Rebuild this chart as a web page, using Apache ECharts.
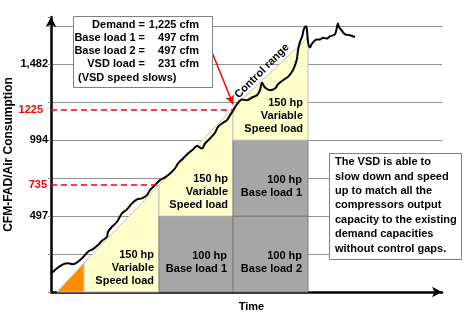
<!DOCTYPE html>
<html>
<head>
<meta charset="utf-8">
<script src="https://cdn.jsdelivr.net/npm/echarts@6/dist/echarts.min.js"></script>
<style>html,body{margin:0;padding:0;background:#fff;}</style>
</head>
<body>
<div id="chart" style="width:475px;height:316px;"></div>
<script type="text/javascript">
// demand curve: time (arbitrary units along the axis) vs air consumption (cfm)
var demandTime = [1,6,12,17,22,27,32,37,42,47, 51,56,57,61,66,71,76,81,86,91,
    96,99,104,109,114,119,124,127,132,137, 142,146,151,154,159,164,167,171,176,179,
    182,186,191,196,201,206,209,211,214,219, 224,227,232,237,241,244,246,247,249,251,
    253,255,256,257,259,261,266,269,272,276, 279,284,287,288,291,294,299,304];
var demandCfm = [126,155,181,188,181,198,227,264,281,307, 335,362,394,427,460,515,541,580,606,613,
    634,667,700,732,750,776,809,842,874,907, 933,955,940,972,1005,1042,1081,1103,1125,1157,
    1186,1229,1260,1255,1273,1288,1321,1369,1338,1321, 1332,1360,1386,1408,1441,1484,1528,1582,1637,1669,
    1724,1739,1713,1637,1600,1626,1652,1652,1665,1659, 1674,1687,1757,1735,1709,1687,1681,1669];

// compressor load blocks
var blockStart = [6, 33, 108, 108, 182, 182, 182];
var blockEnd = [33, 108, 182, 182, 257, 257, 257];
var blockBottom = [0, 0, 0, 497, 0, 497, 994];
var blockTopLeft = [0, 190, 497, 700, 497, 994, 1203];
var blockTopRight = [190, 700, 497, 1203, 497, 994, 1667];
var blockKind = ['start', 'vsd', 'base', 'vsd', 'base', 'base', 'vsd'];
var blockLabel = ['', '150 hp\nVariable\nSpeed load', '100 hp\nBase load 1', '150 hp\nVariable\nSpeed load',
    '100 hp\nBase load 2', '100 hp\nBase load 1', '150 hp\nVariable\nSpeed load'];

// y axis labels
var yTickValues = [497, 994, 1491];
var yTickLabels = ['497', '994', '1,482'];

// red reference levels
var refCfm = [700, 1191];
var refLabels = ['735', '1225'];
var refEnd = [108, 182];

var FONT = '"Liberation Sans", Arial, sans-serif';

var demandData = [];
for (var i = 0; i < demandTime.length; i++) {
    demandData.push([demandTime[i], demandCfm[i]]);
}
var blockData = [];
for (var i = 0; i < blockStart.length; i++) {
    blockData.push([blockStart[i], blockEnd[i], blockBottom[i], blockTopLeft[i], blockTopRight[i]]);
}

var fills = { start: '#FF8C00', vsd: '#FFFFCC', base: '#A6A6A6' };
var strokes = { start: '#C0C0C0', vsd: '#C0C0C0', base: '#7F7F7F' };

var refLines = [];
for (var i = 0; i < refCfm.length; i++) {
    refLines.push([
        { coord: [0, refCfm[i]], symbol: 'none',
          label: { show: true, position: 'start', formatter: refLabels[i], distance: i == 0 ? 4 : 8,
                   color: '#FF0000', fontWeight: 'bold', fontSize: 11, fontFamily: FONT },
          lineStyle: { color: '#FF0000', type: [6, 4], width: 1.5 } },
        { coord: [refEnd[i], refCfm[i]], symbol: 'none' }
    ]);
}
// arrow from the text box to the 1225 point
refLines.push([
    { coord: [161, 1569], symbol: 'none', label: { show: false },
      lineStyle: { color: '#FF0000', type: 'solid', width: 1.5 } },
    { coord: [182, 1229], symbol: 'arrow', symbolSize: [7, 9] }
]);

var chart = echarts.init(document.getElementById('chart'));
var option = {
    animation: false,
    grid: { left: 51, right: 33, top: 17, bottom: 24, containLabel: false, outerBoundsMode: 'none' },
    xAxis: {
        type: 'value', min: 0, max: 391,
        axisLine: { lineStyle: { color: '#000', width: 2.5 }, symbol: ['none', 'arrow'], symbolSize: [8, 10] },
        axisTick: { show: false }, axisLabel: { show: false }, splitLine: { show: false },
        name: 'Time', nameLocation: 'middle', nameGap: 9,
        nameTextStyle: { color: '#000', fontWeight: 'bold', fontSize: 11, fontFamily: FONT, padding: [0, 0, 0, 10] }
    },
    yAxis: {
        type: 'value', min: 0, max: 1800, interval: 248.5,
        axisLine: { show: true, lineStyle: { color: '#000', width: 2.5 }, symbol: ['none', 'arrow'], symbolSize: [8, 10] },
        axisTick: { show: true, length: 3, lineStyle: { color: '#888' } },
        axisLabel: {
            margin: 3, color: '#000', fontWeight: 'bold', fontSize: 11, fontFamily: FONT,
            formatter: function (v) {
                for (var k = 0; k < yTickValues.length; k++) {
                    if (Math.abs(v - yTickValues[k]) < 0.5) return yTickLabels[k];
                }
                return '';
            }
        },
        splitLine: { show: true, showMaxLine: false, lineStyle: { color: '#8F8F8F', width: 1 } },
        name: 'CFM-FAD/Air Consumption', nameLocation: 'middle', nameGap: 36, nameMoveOverlap: false,
        nameTextStyle: { color: '#000', fontWeight: 'bold', fontSize: 12, fontFamily: FONT }
    },
    series: [
        {
            type: 'custom',
            data: blockData,
            clip: false,
            z: 2,
            silent: true,
            renderItem: function (params, api) {
                var x0 = api.value(0), x1 = api.value(1), b = api.value(2);
                var p1 = api.coord([x0, b]), p2 = api.coord([x1, b]);
                var p3 = api.coord([x1, api.value(4)]), p4 = api.coord([x0, api.value(3)]);
                var kind = blockKind[params.dataIndex];
                var children = [{
                    type: 'polygon',
                    shape: { points: [p1, p2, p3, p4] },
                    style: { fill: fills[kind], stroke: strokes[kind], lineWidth: 1 }
                }];
                var txt = blockLabel[params.dataIndex];
                if (txt) {
                    children.push({
                        type: 'text',
                        x: p2[0] - (kind == 'vsd' ? 5 : 6),
                        y: p2[1] - (kind == 'vsd' ? 5 : 17),
                        style: { text: txt, align: 'right', verticalAlign: 'bottom', lineHeight: 13,
                                 font: 'bold 11px ' + FONT, fill: '#000' }
                    });
                }
                return { type: 'group', children: children };
            }
        },
        {
            type: 'line',
            data: demandData,
            smooth: 0.3,
            symbol: 'none',
            z: 4,
            silent: true,
            lineStyle: { color: '#000', width: 2 },
            markLine: { silent: true, symbol: ['none', 'none'], data: refLines, animation: false }
        }
    ],
    graphic: [
        { type: 'rect', z: 100, shape: { x: 73.5, y: 16.5, width: 139, height: 71 },
          style: { fill: '#fff', stroke: '#808080', lineWidth: 1 } },
        { type: 'text', z: 101, x: 145, y: 18, style: { text: 'Demand =\nBase load 1 =\nBase load 2 =\nVSD load =', align: 'right', verticalAlign: 'top', lineHeight: 13, font: 'bold 11px ' + FONT, fill: '#000' } },
        { type: 'text', z: 101, x: 199, y: 18, style: { text: '1,225 cfm\n497 cfm\n497 cfm\n231 cfm', align: 'right', verticalAlign: 'top', lineHeight: 13, font: 'bold 11px ' + FONT, fill: '#000' } },
        { type: 'text', z: 101, x: 78, y: 77.5, style: { text: '(VSD speed slows)', align: 'left', verticalAlign: 'middle', font: 'bold 11px ' + FONT, fill: '#000' } },
        { type: 'text', z: 101, x: 262, y: 71, rotation: Math.PI / 4,
          style: { text: 'Control range', align: 'center', verticalAlign: 'middle', font: 'bold 11px ' + FONT, fill: '#000' } },
        { type: 'rect', z: 100, shape: { x: 329.5, y: 153.5, width: 132, height: 106 },
          style: { fill: '#fff', stroke: '#808080', lineWidth: 1 } },
        { type: 'text', z: 101, x: 335, y: 155, style: {
            text: 'The VSD is able to\nslow down and speed\nup to match all the\ncompressors output\ncapacity to the existing\ndemand capacities\nwithout control gaps.',
            align: 'left', verticalAlign: 'top', lineHeight: 14.4, font: 'bold 11px ' + FONT, fill: '#000' } }
    ]
};
chart.setOption(option);
</script>
</body>
</html>
